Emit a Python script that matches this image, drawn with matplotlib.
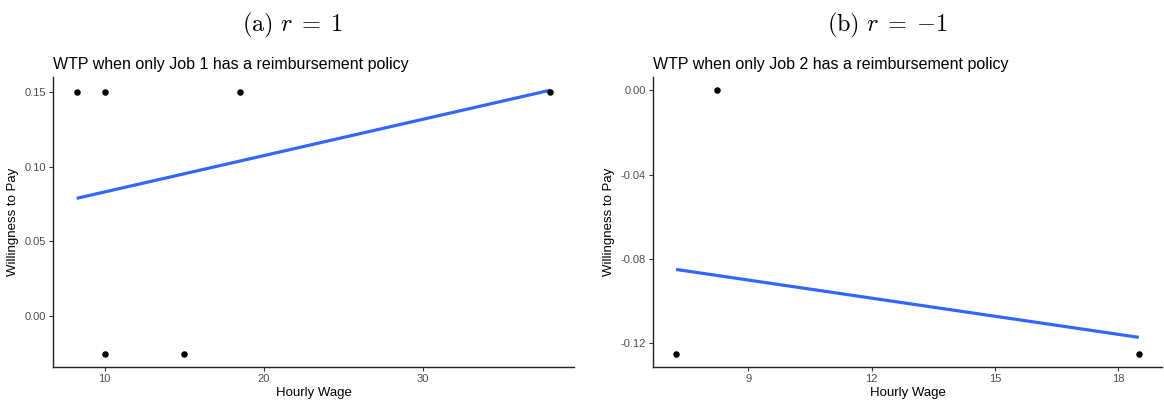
import matplotlib
matplotlib.use("Agg")
import matplotlib.pyplot as plt

# ---- data ----
wage_a = [8.25, 10.0, 10.0, 15.0, 18.5, 38.0]
wtp_a = [0.15, 0.15, -0.025, -0.025, 0.15, 0.15]
fit_a_x = [8.25, 38.0]
fit_a_y = [0.0788, 0.151]
xticks_a = [10, 20, 30]
yticks_a = [0.00, 0.05, 0.10, 0.15]
yticklabels_a = ["0.00", "0.05", "0.10", "0.15"]

wage_b = [7.25, 8.25, 18.5]
wtp_b = [-0.125, 0.0, -0.125]
fit_b_x = [7.25, 18.5]
fit_b_y = [-0.085, -0.1172]
xticks_b = [9, 12, 15, 18]
yticks_b = [-0.12, -0.08, -0.04, 0.00]
yticklabels_b = ["-0.12", "-0.08", "-0.04", "0.00"]

titles = [r"$\mathrm{(a)}\ r \;=\; 1$", r"$\mathrm{(b)}\ r \;=\; {-1}$"]
subtitles = ["WTP when only Job 1 has a reimbursement policy",
             "WTP when only Job 2 has a reimbursement policy"]
xlabel = "Hourly Wage"
ylabel = "Willingness to Pay"

plt.rcParams["mathtext.fontset"] = "cm"
plt.rcParams["font.family"] = ["Liberation Sans", "DejaVu Sans"]

W, H = 1164, 400
fig = plt.figure(figsize=(W / 100, H / 100), dpi=100)

def px(x0, x1, ytop, ybot):
    return [x0 / W, 1 - ybot / H, (x1 - x0) / W, (ybot - ytop) / H]

ax_a = fig.add_axes(px(53, 574, 77, 367))
ax_b = fig.add_axes(px(653, 1162, 77, 367))

def style(ax, xs, ys, fx, fy, xt, yt, ytl, sub):
    ax.plot(fx, fy, color="#3366FF", lw=2.3, solid_capstyle="butt", zorder=2)
    ax.scatter(xs, ys, s=22, color="black", zorder=3, linewidths=0)
    lo_x, hi_x = min(xs + fx), max(xs + fx)
    lo_y, hi_y = min(ys + fy), max(ys + fy)
    dx, dy = (hi_x - lo_x) * 0.05, (hi_y - lo_y) * 0.05
    ax.set_xlim(lo_x - dx, hi_x + dx)
    ax.set_ylim(lo_y - dy, hi_y + dy)
    ax.set_xticks(xt)
    ax.set_xticklabels([str(t) for t in xt])
    ax.set_yticks(yt)
    ax.set_yticklabels(ytl)
    for s in ["top", "right"]:
        ax.spines[s].set_visible(False)
    for s in ["left", "bottom"]:
        ax.spines[s].set_linewidth(1.0)
        ax.spines[s].set_color("#222222")
    ax.tick_params(axis="both", length=3, width=0.8, color="#333333",
                   labelcolor="#4D4D4D", labelsize=8, pad=2)
    ax.set_xlabel(xlabel, fontsize=9.5, labelpad=2)
    ax.set_ylabel(ylabel, fontsize=9.5, labelpad=4)
    ax.set_title(sub, loc="left", fontsize=11.5, pad=6)

style(ax_a, wage_a, wtp_a, fit_a_x, fit_a_y, xticks_a, yticks_a, yticklabels_a, subtitles[0])
style(ax_b, wage_b, wtp_b, fit_b_x, fit_b_y, xticks_b, yticks_b, yticklabels_b, subtitles[1])

fig.text(292 / W, 1 - 25 / H, titles[0], ha="center", va="center", fontsize=17.5)
fig.text(887 / W, 1 - 25 / H, titles[1], ha="center", va="center", fontsize=17.5)

fig.savefig("out.png", dpi=100)
